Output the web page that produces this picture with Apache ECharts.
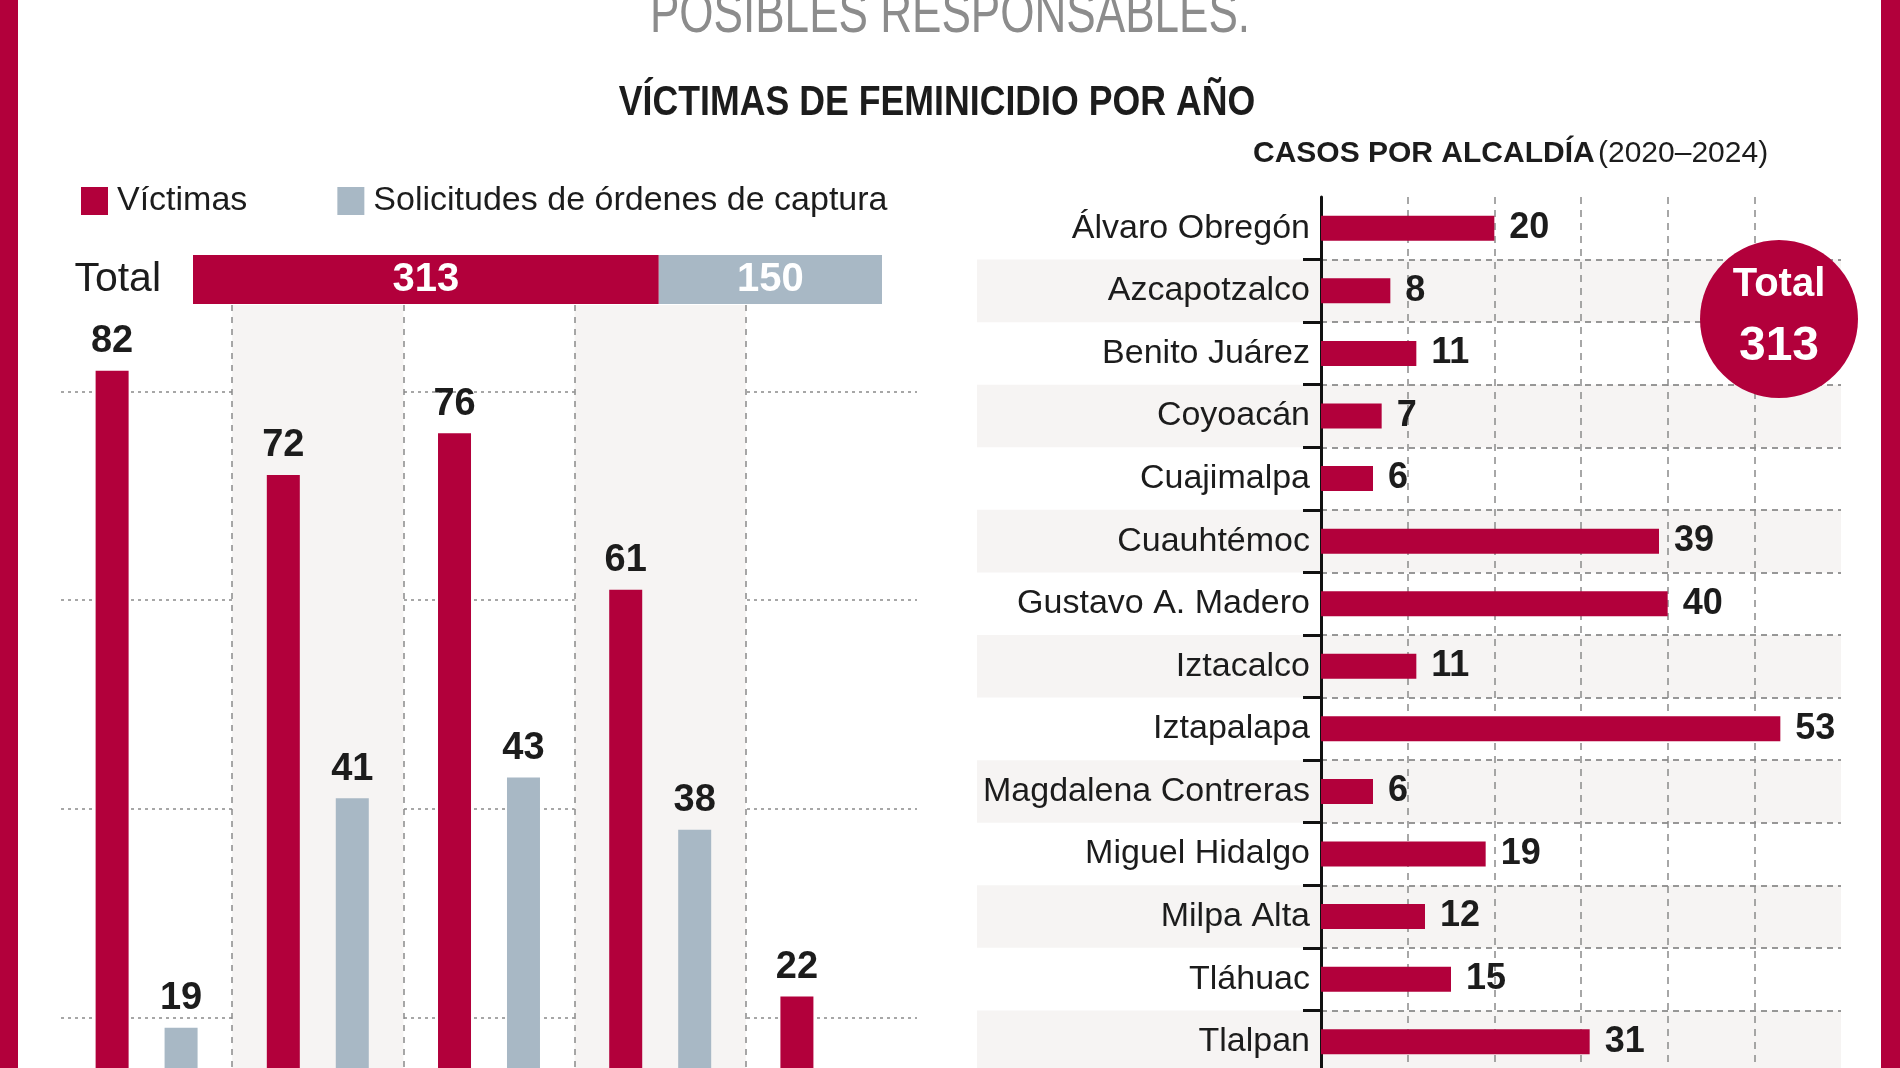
<!DOCTYPE html>
<html><head><meta charset="utf-8">
<script src="https://cdn.jsdelivr.net/npm/echarts@6/dist/echarts.min.js"></script>
<style>html,body{margin:0;padding:0;background:#fff;}#c{width:1900px;height:1068px;}</style>
</head><body><div id="c"></div>
<script>
const years = ['2020', '2021', '2022', '2023', '2024'];
const victimas = [82, 72, 76, 61, 22];
const ordenes = [19, 41, 43, 38, 9];
const totalVictimas = 313;
const totalOrdenes = 150;
const alcaldias = ['Álvaro Obregón', 'Azcapotzalco', 'Benito Juárez', 'Coyoacán', 'Cuajimalpa', 'Cuauhtémoc', 'Gustavo A. Madero', 'Iztacalco', 'Iztapalapa', 'Magdalena Contreras', 'Miguel Hidalgo', 'Milpa Alta', 'Tláhuac', 'Tlalpan'];
const casos = [20, 8, 11, 7, 6, 39, 40, 11, 53, 6, 19, 12, 15, 31];
const totalCasos = 313;
const casosTicks = [0, 10, 20, 30, 40, 50, 60];

const RED = '#b2003b', GRAY = '#a8b8c5', SHADE = '#f6f4f3', INK = '#1c1c1c';
const SANS = "'Liberation Sans', Arial, sans-serif";

const chart = echarts.init(document.getElementById('c'), null, {renderer: 'canvas'});
const valLabel = {show: true, position: 'top', distance: 10, fontSize: 38, fontWeight: 'bold', color: INK, fontFamily: SANS};

chart.setOption({
  animation: false,
  backgroundColor: '#fff',
  legend: {
    data: ['Víctimas', 'Solicitudes de órdenes de captura'],
    left: 76, top: 179, itemWidth: 27, itemHeight: 28, itemGap: 90, icon: 'rect',
    selectedMode: false,
    textStyle: {fontSize: 34, color: INK, fontFamily: SANS, lineHeight: 28, padding: [0, 0, 0, 4]}
  },
  grid: [
    {left: 61, top: 305, width: 856, height: 921, outerBoundsMode: 'none', containLabel: false},
    {left: 193, top: 255, width: 689, height: 49, outerBoundsMode: 'none', containLabel: false},
    {left: 977, top: 197, width: 864, height: 876, outerBoundsMode: 'none', containLabel: false},
    {left: 1321, top: 197, width: 520, height: 876, outerBoundsMode: 'none', containLabel: false}
  ],
  xAxis: [
    {gridIndex: 0, type: 'category', data: years, axisLine: {show: false}, axisTick: {show: false}, axisLabel: {show: false},
     splitLine: {show: true, showMinLine: false, showMaxLine: false, lineStyle: {color: '#8a8a8a', type: [6, 6], width: 1.5}},
     splitArea: {show: true, areaStyle: {color: ['rgba(255,255,255,0)', SHADE]}}},
    {gridIndex: 1, type: 'value', min: 0, max: totalVictimas + totalOrdenes, show: false},
    {gridIndex: 2, type: 'value', min: 0, max: 1, show: false},
    {gridIndex: 3, type: 'value', min: casosTicks[0], max: casosTicks[casosTicks.length - 1], interval: 10,
     axisLine: {show: false}, axisTick: {show: false}, axisLabel: {show: false},
     splitLine: {show: true, showMinLine: false, showMaxLine: false, lineStyle: {color: '#8a8a8a', type: [7, 6], width: 1.5}}}
  ],
  yAxis: [
    {gridIndex: 0, type: 'value', min: 0, max: 88.3, interval: 20, axisLine: {show: false}, axisLabel: {show: false}, axisTick: {show: false},
     splitLine: {show: true, showMinLine: false, showMaxLine: false, lineStyle: {color: '#8a8a8a', type: [3, 4], width: 1.5}}},
    {gridIndex: 1, type: 'category', data: ['Total'], axisLine: {show: false}, axisTick: {show: false},
     axisLabel: {margin: 32, fontSize: 41, color: INK, fontFamily: SANS}},
    {gridIndex: 2, type: 'category', data: alcaldias, inverse: true, axisLine: {show: false}, axisTick: {show: false}, axisLabel: {show: false},
     splitLine: {show: false}, splitArea: {show: true, areaStyle: {color: ['rgba(255,255,255,0)', SHADE]}}},
    {gridIndex: 3, type: 'category', data: alcaldias, inverse: true,
     axisLine: {show: true, lineStyle: {color: '#111', width: 3}},
     axisTick: {show: true, length: 18, lineStyle: {color: '#111', width: 3}, interval: function (i) { return i !== 0; }},
     axisLabel: {margin: 11, fontSize: 34, color: INK, fontFamily: SANS},
     splitLine: {show: true, showMinLine: false, showMaxLine: false, lineStyle: {color: '#777', type: [6, 5], width: 1.5}}}
  ],
  series: [
    {type: 'bar', name: 'Víctimas', xAxisIndex: 0, yAxisIndex: 0, data: victimas, barWidth: 33, barGap: '109%', itemStyle: {color: RED}, label: valLabel},
    {type: 'bar', name: 'Solicitudes de órdenes de captura', xAxisIndex: 0, yAxisIndex: 0, data: ordenes, barWidth: 33, itemStyle: {color: GRAY}, label: valLabel},
    {type: 'bar', name: 'totalV', xAxisIndex: 1, yAxisIndex: 1, stack: 'tot', data: [totalVictimas], barWidth: 49, itemStyle: {color: RED},
     label: {show: true, position: 'inside', fontSize: 40, fontWeight: 'bold', color: '#fff', fontFamily: SANS}},
    {type: 'bar', name: 'totalO', xAxisIndex: 1, yAxisIndex: 1, stack: 'tot', data: [totalOrdenes], barWidth: 49, itemStyle: {color: GRAY},
     label: {show: true, position: 'inside', fontSize: 40, fontWeight: 'bold', color: '#fff', fontFamily: SANS}},
    {type: 'bar', name: 'Casos', xAxisIndex: 3, yAxisIndex: 3, data: casos, barWidth: 25, itemStyle: {color: RED},
     label: {show: true, position: 'right', distance: 15, fontSize: 36, fontWeight: 'bold', color: INK, fontFamily: SANS}}
  ],
  graphic: [
    {type: 'rect', shape: {x: 0, y: 0, width: 18, height: 1068}, style: {fill: RED}, z: 100},
    {type: 'rect', shape: {x: 1881, y: 0, width: 19, height: 1068}, style: {fill: RED}, z: 100},
    {type: 'text', x: 950, y: 16, scaleX: 0.76, z: 100, style: {text: 'POSIBLES RESPONSABLES.', align: 'center', verticalAlign: 'middle',
      fontSize: 58, fontFamily: SANS, fill: '#8c8c8c'}},
    {type: 'text', x: 937, y: 103, scaleX: 0.85, z: 100, style: {text: 'VÍCTIMAS DE FEMINICIDIO POR AÑO', align: 'center', verticalAlign: 'middle',
      fontSize: 42, fontWeight: 'bold', fontFamily: SANS, fill: INK}},
    {type: 'text', x: 1253, y: 154, z: 100, style: {text: '{b|CASOS POR ALCALDÍA} {r|(2020–2024)}', align: 'left', verticalAlign: 'middle',
      rich: {b: {fontSize: 30, fontWeight: 'bold', fontFamily: SANS, fill: INK, color: INK},
             r: {fontSize: 30, fontFamily: SANS, fill: INK, color: INK}}}},
    {type: 'circle', shape: {cx: 1779, cy: 319, r: 79}, style: {fill: RED}, z: 100},
    {type: 'text', x: 1779, y: 285, z: 101, style: {text: 'Total', align: 'center', verticalAlign: 'middle',
      fontSize: 40, fontWeight: 'bold', fontFamily: SANS, fill: '#fff'}},
    {type: 'text', x: 1779, y: 347, z: 101, style: {text: String(totalCasos), align: 'center', verticalAlign: 'middle',
      fontSize: 48, fontWeight: 'bold', fontFamily: SANS, fill: '#fff'}}
  ]
});
</script></body></html>
